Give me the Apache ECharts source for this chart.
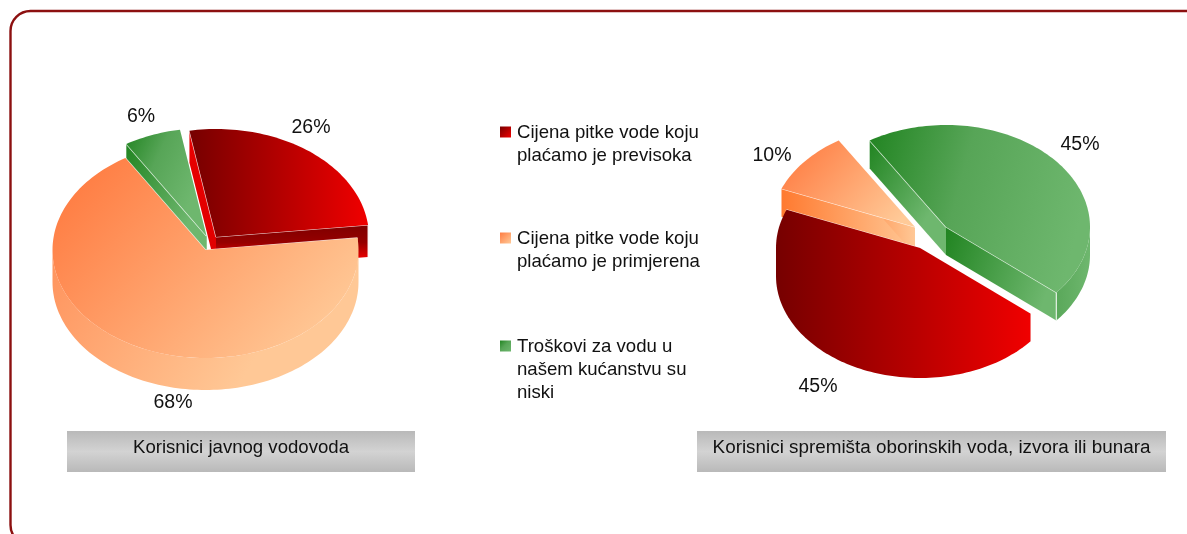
<!DOCTYPE html>
<html>
<head>
<meta charset="utf-8">
<style>
  html, body { margin: 0; padding: 0; background: #fff; }
  #chart { width: 1187px; height: 534px; }
</style>
<script src="https://cdn.jsdelivr.net/npm/echarts@6/dist/echarts.min.js"></script>
</head>
<body>
<div id="chart"></div>
<script>
// share of answers in percent, same order as the legend
const publicWater = [26, 68, 6];
const otherSources = [45, 10, 45];

const publicTitle = 'Korisnici javnog vodovoda';
const otherTitle = 'Korisnici spremišta oborinskih voda, izvora ili bunara';

const legendLines = [
  ['Cijena pitke vode koju', 'plaćamo je previsoka'],
  ['Cijena pitke vode koju', 'plaćamo je primjerena'],
  ['Troškovi za vodu u', 'našem kućanstvu su', 'niski']
];

const FONT = '"Liberation Sans", Arial, sans-serif';

function grad(x, y, x2, y2, ...colors) {
  return {
    type: 'linear', x, y, x2, y2,
    colorStops: colors.map(([offset, color]) => ({ offset, color }))
  };
}

const SLICE_STYLE = [
  {
    top: grad(0, 0, 1, 0, [0, '#760000'], [1, '#f00000']),
    rim: null, // red slice: rim is drawn as one shape with the top
    wallStart: grad(0, 0, 0, 1, [0, '#e80000'], [1, '#e00000']),
    wallEnd: grad(0, 0, 0, 1, [0, '#7e0000'], [0.4, '#960000'], [0.75, '#e80000'], [1, '#e80000'])
  },
  {
    top: grad(0.12, 0, 0.85, 1, [0, '#ff7c42'], [1, '#ffca98']),
    rim: grad(0, 0.2, 0.6, 1, [0, '#ff9660'], [1, '#ffc896']),
    wallStart: grad(0, 0, 1, 0, [0, '#ff7a30'], [1, '#ffc896']),
    wallEnd: grad(0, 0, 1, 0, [0, '#ff7a30'], [1, '#ffc896'])
  },
  {
    top: grad(0, 0, 1, 0.35, [0, '#218421'], [0.45, '#57a557'], [1, '#6eb76e']),
    rim: grad(0, 0, 1, 0, [0, '#5aa85a'], [1, '#6eb76e']),
    wallStart: grad(0, 0, 1, 0.4, [0, '#218421'], [1, '#6eb76e']),
    wallEnd: grad(0, 0, 1, 0.4, [0, '#218421'], [1, '#6eb76e'])
  }
];

const PIE_LEFT = {
  cx: 205.5, cy: 250, rx: 153, ry: 108, depth: 32, startAngle: -10,
  offsets: [[10.5, -13], [0, 0], [1, -14]],
  order: [1, 3, 2],
  labels: [[311, 128], [173, 403], [141, 117]]
};

const PIE_RIGHT = {
  cx: 925, cy: 240, rx: 144, ry: 102, depth: 28, startAngle: 130,
  offsets: [[-5, 8], [-10, -13], [21, -13]],
  order: [2, 1, 3],
  labels: [[818, 387], [772, 156], [1080, 145]]
};

function ellipsePoint(pie, ox, oy, deg) {
  const a = deg * Math.PI / 180;
  return [pie.cx + ox + pie.rx * Math.sin(a), pie.cy + oy - pie.ry * Math.cos(a)];
}

function arcPoints(pie, ox, oy, from, to) {
  const pts = [];
  const steps = Math.max(2, Math.ceil((to - from) / 1.5));
  for (let i = 0; i <= steps; i++) {
    pts.push(ellipsePoint(pie, ox, oy, from + (to - from) * i / steps));
  }
  return pts;
}

function makeRenderItem(pie, values) {
  const total = values.reduce((a, b) => a + b, 0);
  return function (params, api) {
    const i = params.dataIndex;
    const before = values.slice(0, i).reduce((a, b) => a + b, 0);
    const from = pie.startAngle + before / total * 360;
    const to = from + api.value(0) / total * 360;
    const [ox, oy] = pie.offsets[i];
    const d = pie.depth;
    const look = SLICE_STYLE[i];
    const apex = [pie.cx + ox, pie.cy + oy];
    const p0 = ellipsePoint(pie, ox, oy, from);
    const p1 = ellipsePoint(pie, ox, oy, to);
    const z = pie.order[i] * 10;
    const down = p => [p[0], p[1] + d];
    const children = [];
    let facePoints = [apex].concat(arcPoints(pie, ox, oy, from, to));

    // side walls along the two cut edges
    [[p0, look.wallStart], [p1, look.wallEnd]].forEach(([p, fill]) => {
      children.push({
        type: 'polygon',
        shape: { points: [apex, p, down(p), down(apex)] },
        style: { fill },
        z2: z
      });
    });

    // outer rim, only the part that faces the viewer
    [[90, 270], [450, 630]].forEach(([a, b]) => {
      const lo = Math.max(from, a);
      const hi = Math.min(to, b);
      if (lo >= hi) return;
      const arc = arcPoints(pie, ox, oy, lo, hi);
      if (look.rim) {
        children.push({
          type: 'polygon',
          shape: { points: arc.concat(arc.map(down).reverse()) },
          style: { fill: look.rim },
          z2: z + 1
        });
      } else {
        facePoints = [apex]
          .concat(arcPoints(pie, ox, oy, from, lo))
          .concat(arc.map(down))
          .concat(arcPoints(pie, ox, oy, hi, to));
      }
    });

    // thin light lines on the wall edges
    [[apex, p0], [apex, p1], [p1, down(p1)]].forEach(([a, b]) => {
      children.push({
        type: 'line',
        shape: { x1: a[0], y1: a[1], x2: b[0], y2: b[1] },
        style: { stroke: '#ffffff', lineWidth: 1.2, opacity: 0.8 },
        z2: z + 2
      });
    });

    children.push({
      type: 'polygon',
      shape: { points: facePoints },
      style: { fill: look.top },
      z2: z + 3
    });

    children.push({
      type: 'text',
      style: {
        x: pie.labels[i][0],
        y: pie.labels[i][1],
        text: api.value(0) + '%',
        fill: '#111',
        font: '19.5px ' + FONT,
        align: 'center',
        verticalAlign: 'middle'
      },
      z2: 100
    });

    return { type: 'group', children };
  };
}

function pieSeries(pie, values) {
  return {
    type: 'custom',
    coordinateSystem: 'none',
    silent: true,
    data: values,
    renderItem: makeRenderItem(pie, values)
  };
}

function titleBar(x, y, w, h, text, size) {
  return [
    {
      type: 'rect', z: 1,
      shape: { x, y, width: w, height: h },
      style: {
        fill: grad(0, 0, 0, 1, [0, '#b9b9b9'], [0.5, '#d3d3d3'], [1, '#b9b9b9'])
      }
    },
    {
      type: 'text', z: 2,
      style: {
        x: x + w / 2, y: 448, text, fill: '#111',
        font: size + 'px ' + FONT, align: 'center', verticalAlign: 'middle'
      }
    }
  ];
}

function legendGraphics() {
  const rows = [132, 238, 346];
  const out = [];
  legendLines.forEach((lines, i) => {
    out.push({
      type: 'rect', z: 2,
      shape: { x: 500, y: rows[i] - 5.5, width: 11, height: 11 },
      style: { fill: grad(0, 0, 1, 1, ...SLICE_STYLE[i].top.colorStops.map(s => [s.offset, s.color])) }
    });
    lines.forEach((line, j) => {
      out.push({
        type: 'text', z: 2,
        style: {
          x: 517, y: rows[i] + 1 + j * 23, text: line, fill: '#111',
          font: '18.6px ' + FONT, align: 'left', verticalAlign: 'middle'
        }
      });
    });
  });
  return out;
}

const chart = echarts.init(document.getElementById('chart'), null, { renderer: 'canvas' });

chart.setOption({
  animation: false,
  backgroundColor: '#fff',
  graphic: [
    {
      type: 'rect', z: 0,
      shape: { x: 10.5, y: 11, width: 1196, height: 534, r: 20 },
      style: { fill: 'none', stroke: '#8c1010', lineWidth: 2.4 }
    },
    ...titleBar(67, 431, 348, 41, publicTitle, 18.6),
    ...titleBar(697, 431, 469, 41, otherTitle, 18.85),
    ...legendGraphics()
  ],
  series: [pieSeries(PIE_LEFT, publicWater), pieSeries(PIE_RIGHT, otherSources)]
});
</script>
</body>
</html>
